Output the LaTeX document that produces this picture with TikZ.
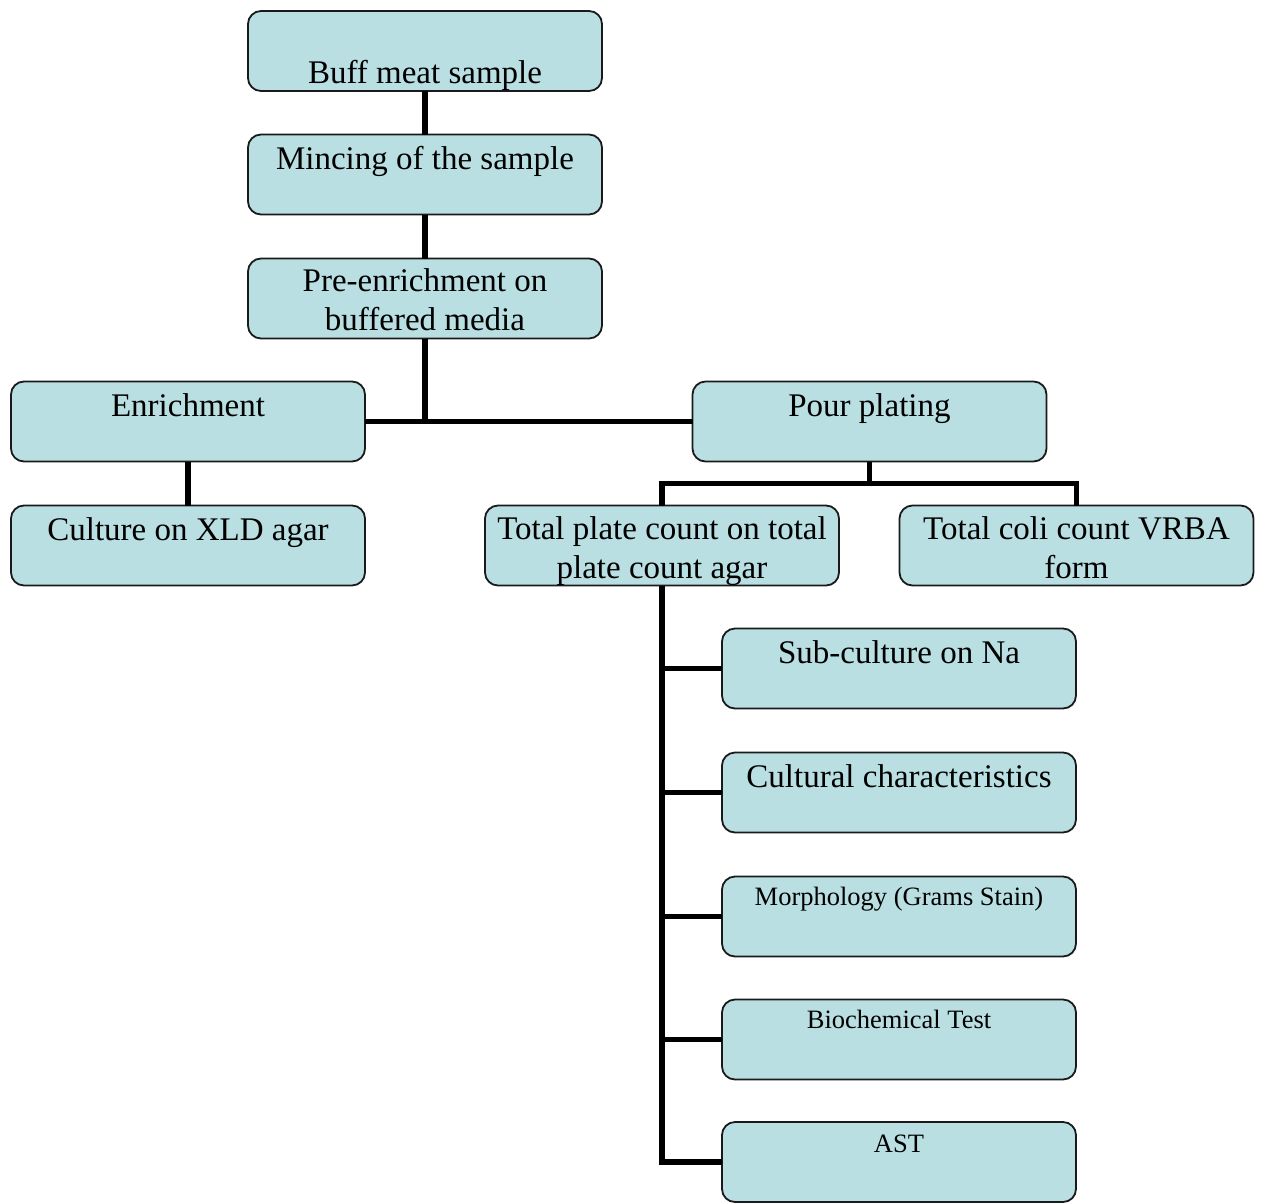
\documentclass[tikz,border=0pt]{standalone}
\usepackage{fontspec}
\setmainfont{Liberation Serif}
\definecolor{boxfill}{HTML}{B9DFE2}
\definecolor{boxline}{HTML}{1A1A1A}
\begin{document}
\begin{tikzpicture}[x=1pt,y=-1pt,
  box/.style={draw=boxline, fill=boxfill, line width=1.8pt, rounded corners=13pt,
    minimum width=354pt, minimum height=80pt, inner sep=0pt, outer sep=0pt},
  bigtext/.style={font=\fontsize{33}{38.5}\selectfont, align=center, inner sep=0pt, anchor=base},
  smalltext/.style={font=\fontsize{26.5}{31}\selectfont, align=center, inner sep=0pt, anchor=base},
  conn/.style={line width=5.5pt, black, line join=miter}]
\useasboundingbox (0,0) rectangle (1264,1203);
% boxes
\node[box] (buff) at (425,51) {};
\node[box] (minc) at (425,174.5) {};
\node[box] (pre)  at (425,298.5) {};
\node[box] (enr)  at (188,421.5) {};
\node[box] (pour) at (869.5,421.5) {};
\node[box] (xld)  at (188,545.5) {};
\node[box] (tpc)  at (662,545.5) {};
\node[box] (coli) at (1076.5,545.5) {};
\node[box] (sub)  at (899,668.5) {};
\node[box] (cult) at (899,792.5) {};
\node[box] (morph) at (899,916.5) {};
\node[box] (bio)  at (899,1039.5) {};
\node[box] (ast)  at (899,1162) {};
% connectors
\coordinate (pj) at (869.5,483.5);
\draw[conn] (buff.south) -- (minc.north);
\draw[conn] (minc.south) -- (pre.north);
\draw[conn] (pre.south) -- (pre.south |- enr.east);
\draw[conn] (enr.east) -- (pour.west);
\draw[conn] (pour.south) -- (pj);
\draw[conn] (tpc.north) |- (pj) -| (coli.north);
\draw[conn] (enr.south) -- (xld.north);
\draw[conn] (tpc.south) |- (sub.west);
\draw[conn] (tpc.south) |- (cult.west);
\draw[conn] (tpc.south) |- (morph.west);
\draw[conn] (tpc.south) |- (bio.west);
\draw[conn] (tpc.south) |- (ast.west);
% texts
\node[bigtext] (tbuff) at (425,83) {Buff meat sample};
\node[bigtext] (tminc) at (425,169) {Mincing of the sample};
\node[bigtext] (tpre) at (425,330) {Pre-enrichment on\\buffered media};
\node[bigtext] (tenr) at (188,416) {Enrichment};
\node[bigtext] (tpour) at (869.5,416) {Pour plating};
\node[bigtext] (txld) at (188,540) {Culture on XLD agar};
\node[bigtext] (ttpc) at (662,578) {Total plate count on total\\plate count agar};
\node[bigtext] (tcoli) at (1076.5,578) {Total coli count VRBA\\form};
\node[bigtext] (tsub) at (899,663) {Sub-culture on Na};
\node[bigtext] (tcult) at (899,787) {Cultural characteristics};
\node[smalltext] (tmorph) at (899,905) {Morphology (Grams Stain)};
\node[smalltext] (tbio) at (899,1028) {Biochemical Test};
\node[smalltext] (tast) at (899,1152) {AST};
\end{tikzpicture}
\end{document}
